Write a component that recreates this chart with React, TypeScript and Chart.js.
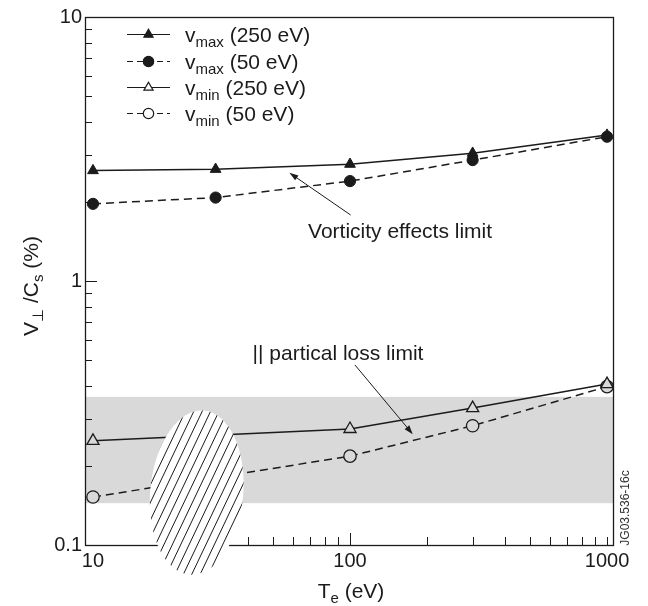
import React, { useEffect, useRef } from 'react';
import { Chart, registerables } from 'chart.js';

Chart.register(...registerables);

const FONT = '"Liberation Sans", Arial, Helvetica, sans-serif';
const INK = '#1b1b1b';

// ---- data ----
const tempMax = [10, 30, 100, 300, 1000];
const vMax250 = [2.62, 2.65, 2.77, 3.05, 3.57];
const vMax50 = [1.96, 2.07, 2.39, 2.87, 3.52];
const tempMin = [10, 100, 300, 1000];
const vMin250 = [0.248, 0.275, 0.33, 0.407];
const vMin50 = [0.152, 0.217, 0.283, 0.398];

const xLabelValues = [10, 100, 1000];
const yLabelValues = [0.1, 1, 10];
const xMinorTicks = [20, 30, 40, 50, 60, 70, 80, 90, 200, 300, 400, 500, 600, 700, 800, 900, 1000];
const xMajorTicks = [100];
const yMinorTicks = [0.2, 0.3, 0.4, 0.5, 0.6, 0.7, 0.8, 0.9, 2, 3, 4, 5, 6, 7, 8, 9];
const yMajorTicks = [1];

const bandRange = [0.144, 0.364];
const hatchXRange = [16.7, 38.4];
const hatchYRange = [0.077, 0.324];

const vorticityText = 'Vorticity effects limit';
const vorticityTextPos = [156.6, 1.545];
const vorticityArrow = [[100.6, 1.778], [58.1, 2.57]];
const lossText = '|| partical loss limit';
const lossTextPos = [89.8, 0.533];
const lossArrow = [[104.5, 0.481], [175.4, 0.263]];

const legendEntries = [
  { sub: 'max', rest: ' (250 eV)', dashed: false, shape: 'triangle', filled: true },
  { sub: 'max', rest: ' (50 eV)', dashed: true, shape: 'circle', filled: true },
  { sub: 'min', rest: ' (250 eV)', dashed: false, shape: 'triangle', filled: false },
  { sub: 'min', rest: ' (50 eV)', dashed: true, shape: 'circle', filled: false },
];

const BAND_COLOR = '#d9d9d9';

function marker(ctx: CanvasRenderingContext2D, shape: string, x: number, y: number, r: number, filled: boolean) {
  ctx.save();
  ctx.beginPath();
  if (shape === 'triangle') {
    for (let i = 0; i < 3; i++) {
      const a = (i * 2 * Math.PI) / 3;
      const px = x + Math.sin(a) * r;
      const py = y - Math.cos(a) * r;
      if (i === 0) ctx.moveTo(px, py);
      else ctx.lineTo(px, py);
    }
    ctx.closePath();
  } else {
    ctx.arc(x, y, r, 0, Math.PI * 2);
  }
  ctx.setLineDash([]);
  ctx.fillStyle = filled ? INK : '#ffffff';
  ctx.fill();
  ctx.lineWidth = 1.2;
  ctx.strokeStyle = INK;
  ctx.stroke();
  ctx.restore();
}

type Part = { t: string; sub?: boolean };

function richWidth(ctx: CanvasRenderingContext2D, parts: Part[], size: number, subSize: number) {
  let w = 0;
  for (const p of parts) {
    ctx.font = `${p.sub ? subSize : size}px ${FONT}`;
    w += ctx.measureText(p.t).width;
  }
  return w;
}

function drawRich(
  ctx: CanvasRenderingContext2D,
  parts: Part[],
  x: number,
  y: number,
  size: number,
  subSize: number,
  subDy: number,
  align: 'left' | 'center'
) {
  let cx = x;
  if (align === 'center') cx = x - richWidth(ctx, parts, size, subSize) / 2;
  ctx.textAlign = 'left';
  ctx.textBaseline = 'alphabetic';
  ctx.fillStyle = INK;
  for (const p of parts) {
    ctx.font = `${p.sub ? subSize : size}px ${FONT}`;
    ctx.fillText(p.t, cx, y + (p.sub ? subDy : 0));
    cx += ctx.measureText(p.t).width;
  }
}

function arrow(ctx: CanvasRenderingContext2D, x1: number, y1: number, x2: number, y2: number) {
  const ang = Math.atan2(y2 - y1, x2 - x1);
  const len = 9;
  const hw = 3;
  ctx.save();
  ctx.strokeStyle = INK;
  ctx.fillStyle = INK;
  ctx.lineWidth = 1;
  ctx.setLineDash([]);
  ctx.beginPath();
  ctx.moveTo(x1, y1);
  ctx.lineTo(x2 - Math.cos(ang) * len * 0.8, y2 - Math.sin(ang) * len * 0.8);
  ctx.stroke();
  ctx.beginPath();
  ctx.moveTo(x2, y2);
  ctx.lineTo(x2 - Math.cos(ang) * len - Math.sin(ang) * hw, y2 - Math.sin(ang) * len + Math.cos(ang) * hw);
  ctx.lineTo(x2 - Math.cos(ang) * len + Math.sin(ang) * hw, y2 - Math.sin(ang) * len - Math.cos(ang) * hw);
  ctx.closePath();
  ctx.fill();
  ctx.restore();
}

const isPow10 = (v: number) => Math.abs(Math.log10(v) - Math.round(Math.log10(v))) < 1e-9;

const decorPlugin = {
  id: 'decor',
  beforeDatasetsDraw(chart: any) {
    const { ctx, chartArea } = chart;
    const y = chart.scales.y;
    const top = y.getPixelForValue(bandRange[1]);
    const bot = y.getPixelForValue(bandRange[0]);
    ctx.save();
    ctx.fillStyle = BAND_COLOR;
    ctx.fillRect(chartArea.left, top, chartArea.right - chartArea.left, bot - top);
    ctx.restore();
  },
  afterDatasetsDraw(chart: any) {
    const { ctx, chartArea } = chart;
    const xs = chart.scales.x;
    const ys = chart.scales.y;
    const { left, right, top, bottom } = chartArea;

    // ticks (inward) and frame
    ctx.save();
    ctx.strokeStyle = INK;
    ctx.lineWidth = 1;
    ctx.setLineDash([]);
    ctx.beginPath();
    for (const v of xMinorTicks) {
      const px = Math.round(xs.getPixelForValue(v)) + 0.5;
      ctx.moveTo(px, bottom);
      ctx.lineTo(px, bottom - 8);
    }
    for (const v of xMajorTicks) {
      const px = Math.round(xs.getPixelForValue(v)) + 0.5;
      ctx.moveTo(px, bottom);
      ctx.lineTo(px, bottom - 12);
    }
    for (const v of yMinorTicks) {
      const py = Math.round(ys.getPixelForValue(v)) + 0.5;
      ctx.moveTo(left, py);
      ctx.lineTo(left + 7, py);
    }
    for (const v of yMajorTicks) {
      const py = Math.round(ys.getPixelForValue(v)) + 0.5;
      ctx.moveTo(left, py);
      ctx.lineTo(left + 12, py);
    }
    ctx.stroke();
    ctx.lineWidth = 1.3;
    ctx.strokeRect(Math.round(left) + 0.5, Math.round(top) + 0.5, Math.round(right - left), Math.round(bottom - top));
    ctx.restore();

    // hatched ellipse
    const ex1 = xs.getPixelForValue(hatchXRange[0]);
    const ex2 = xs.getPixelForValue(hatchXRange[1]);
    const ey1 = ys.getPixelForValue(hatchYRange[1]);
    const ey2 = ys.getPixelForValue(hatchYRange[0]);
    const ecx = (ex1 + ex2) / 2;
    const ecy = (ey1 + ey2) / 2;
    const erx = (ex2 - ex1) / 2;
    const ery = (ey2 - ey1) / 2;
    ctx.save();
    ctx.beginPath();
    ctx.ellipse(ecx, ecy, erx, ery, 0.09, 0, Math.PI * 2);
    ctx.fillStyle = '#ffffff';
    ctx.fill();
    ctx.clip();
    ctx.strokeStyle = INK;
    ctx.lineWidth = 1;
    ctx.beginPath();
    const slope = 2.1;
    for (let x0 = ecx - 260; x0 <= ecx + 260; x0 += 8.4) {
      ctx.moveTo(x0 - 120 / slope, ecy + 120);
      ctx.lineTo(x0 + 120 / slope, ecy - 120);
    }
    ctx.stroke();
    ctx.restore();

    // annotations
    ctx.save();
    drawRich(ctx, [{ t: vorticityText }], xs.getPixelForValue(vorticityTextPos[0]), ys.getPixelForValue(vorticityTextPos[1]) + 7, 21, 15, 0, 'center');
    arrow(ctx,
      xs.getPixelForValue(vorticityArrow[0][0]), ys.getPixelForValue(vorticityArrow[0][1]),
      xs.getPixelForValue(vorticityArrow[1][0]), ys.getPixelForValue(vorticityArrow[1][1]));
    drawRich(ctx, [{ t: lossText }], xs.getPixelForValue(lossTextPos[0]), ys.getPixelForValue(lossTextPos[1]) + 7, 21, 15, 0, 'center');
    arrow(ctx,
      xs.getPixelForValue(lossArrow[0][0]), ys.getPixelForValue(lossArrow[0][1]),
      xs.getPixelForValue(lossArrow[1][0]), ys.getPixelForValue(lossArrow[1][1]));

    // legend
    const rowY = [34, 61, 87, 113];
    legendEntries.forEach((e, i) => {
      const yy = rowY[i];
      ctx.save();
      ctx.strokeStyle = INK;
      ctx.lineWidth = 1.2;
      ctx.setLineDash(e.dashed ? [6, 4] : []);
      ctx.beginPath();
      ctx.moveTo(127, yy + 0.5);
      ctx.lineTo(170, yy + 0.5);
      ctx.stroke();
      ctx.restore();
      marker(ctx, e.shape, 148.5, yy + 0.5, e.shape === 'triangle' ? 5.3 : 5.2, e.filled);
      drawRich(ctx, [{ t: 'v' }, { t: e.sub, sub: true }, { t: e.rest }], 185, yy + 7.5, 21, 15, 5, 'left');
    });

    // axis titles
    drawRich(ctx, [{ t: 'T' }, { t: 'e', sub: true }, { t: ' (eV)' }], (left + right) / 2 + 2, 598, 21, 15, 5, 'center');
    ctx.save();
    ctx.translate(38, 286);
    ctx.rotate(-Math.PI / 2);
    drawRich(ctx, [{ t: 'V' }, { t: '\u22A5', sub: true }, { t: ' /C' }, { t: 's', sub: true }, { t: ' (%)' }], 0, 0, 21, 15, 5, 'center');
    ctx.restore();

    // figure id
    ctx.save();
    ctx.translate(629, 508);
    ctx.rotate(-Math.PI / 2);
    ctx.font = `12px ${FONT}`;
    ctx.fillStyle = '#333';
    ctx.textAlign = 'center';
    ctx.textBaseline = 'alphabetic';
    ctx.fillText('JG03.536-16c', 0, 0);
    ctx.restore();
    ctx.restore();
  },
};

function pts(xs: number[], ys: number[]) {
  return xs.map((x, i) => ({ x, y: ys[i] }));
}

export default function App() {
  const ref = useRef<HTMLCanvasElement | null>(null);
  useEffect(() => {
    if (!ref.current) return;
    const tickFont = { family: FONT, size: 20 };
    const chart = new Chart(ref.current, {
      type: 'line',
      data: {
        datasets: [
          {
            label: 'vmax (250 eV)',
            data: pts(tempMax, vMax250),
            borderColor: INK,
            borderWidth: 1.5,
            pointStyle: 'triangle',
            pointRadius: 6.2,
            pointBackgroundColor: INK,
            pointBorderColor: INK,
            pointBorderWidth: 1,
          },
          {
            label: 'vmax (50 eV)',
            data: pts(tempMax, vMax50),
            borderColor: INK,
            borderWidth: 1.5,
            borderDash: [8, 5],
            pointStyle: 'circle',
            pointRadius: 5.6,
            pointBackgroundColor: INK,
            pointBorderColor: INK,
            pointBorderWidth: 1,
          },
          {
            label: 'vmin (250 eV)',
            data: pts(tempMin, vMin250),
            borderColor: INK,
            borderWidth: 1.5,
            pointStyle: 'triangle',
            pointRadius: 7,
            pointBackgroundColor: BAND_COLOR,
            pointBorderColor: INK,
            pointBorderWidth: 1.3,
          },
          {
            label: 'vmin (50 eV)',
            data: pts(tempMin, vMin50),
            borderColor: INK,
            borderWidth: 1.5,
            borderDash: [8, 5],
            pointStyle: 'circle',
            pointRadius: 6.2,
            pointBackgroundColor: BAND_COLOR,
            pointBorderColor: INK,
            pointBorderWidth: 1.3,
          },
        ],
      },
      options: {
        responsive: false,
        animation: false,
        layout: { padding: { left: 0, right: 35, top: 17, bottom: 0 } },
        plugins: { legend: { display: false }, tooltip: { enabled: false } },
        scales: {
          x: {
            type: 'logarithmic',
            min: 9.31,
            max: 1055,
            grid: { display: false, drawTicks: false },
            border: { display: false },
            afterFit: (s: any) => { s.height = 61; },
            ticks: {
              autoSkip: false,
              maxRotation: 0,
              minRotation: 0,
              padding: 4,
              color: INK,
              font: tickFont,
              callback: (v: any) => (xLabelValues.some((t) => Math.abs(t - v) < 1e-6) ? String(v) : ''),
            },
          },
          y: {
            type: 'logarithmic',
            min: 0.1,
            max: 10,
            grid: { display: false, drawTicks: false },
            border: { display: false },
            afterFit: (s: any) => { s.width = 85; },
            ticks: {
              autoSkip: false,
              padding: 3,
              color: INK,
              font: tickFont,
              callback: (v: any) => (yLabelValues.some((t) => Math.abs(t - v) < 1e-9) && isPow10(v) ? String(v) : ''),
            },
          },
        },
      } as any,
      plugins: [decorPlugin],
    });
    return () => chart.destroy();
  }, []);
  return (
    <div style={{ position: 'fixed', left: 0, top: 0, width: 648, height: 606, background: '#fff' }}>
      <canvas ref={ref} width={648} height={606} />
    </div>
  );
}
